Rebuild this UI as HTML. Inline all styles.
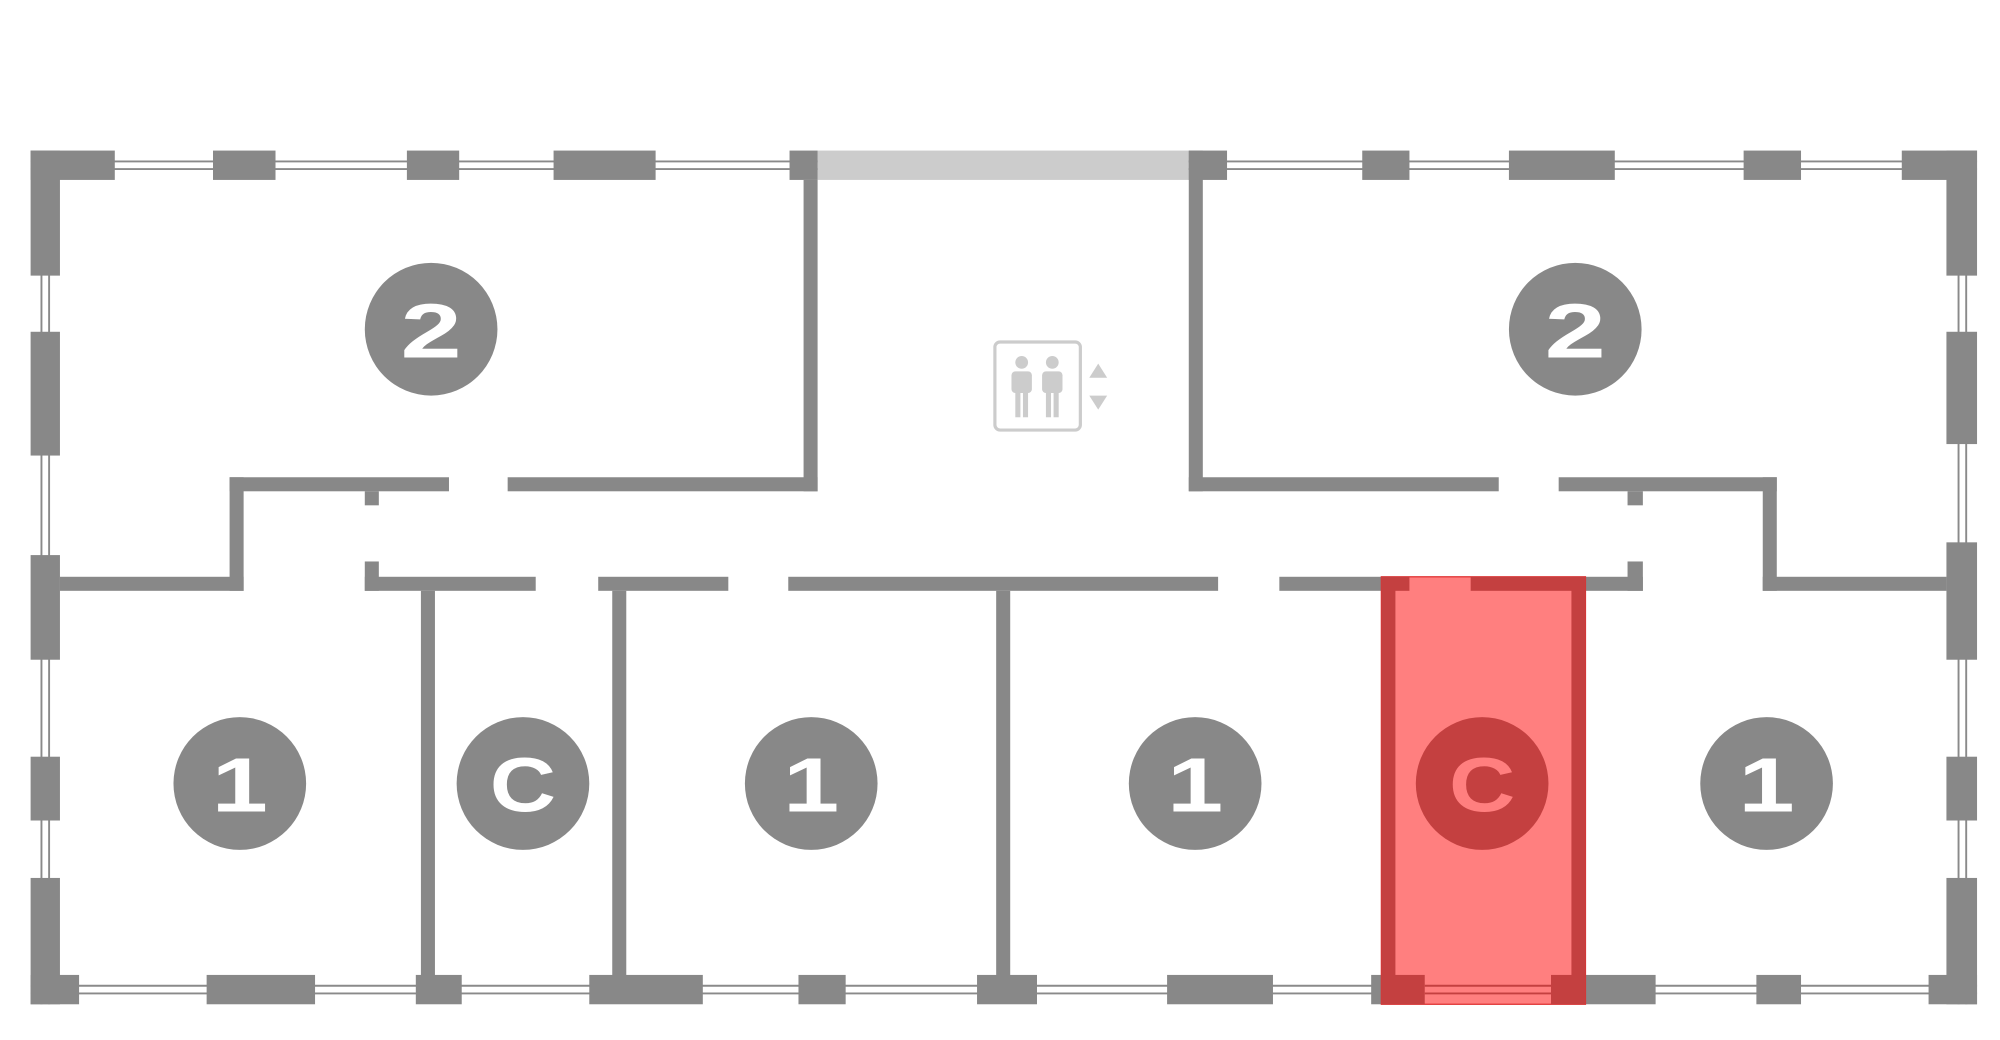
<!DOCTYPE html>
<html><head><meta charset="utf-8"><style>html,body{margin:0;padding:0;background:#fff;}svg{display:block}</style></head><body>
<svg width="2000" height="1040" viewBox="0 0 1568 815" preserveAspectRatio="none" xmlns="http://www.w3.org/2000/svg">
<rect width="1568" height="815" fill="#fff"/>
<g stroke="#8a8a8a" stroke-width="1.5" fill="none">
<line x1="24" y1="126.5" x2="1550" y2="126.5"/><line x1="24" y1="132.5" x2="1550" y2="132.5"/>
<line x1="24" y1="772.5" x2="1550" y2="772.5"/><line x1="24" y1="778.5" x2="1550" y2="778.5"/>
<line x1="32.5" y1="118" x2="32.5" y2="787"/><line x1="38.5" y1="118" x2="38.5" y2="787"/>
<line x1="1535.5" y1="118" x2="1535.5" y2="787"/><line x1="1541.5" y1="118" x2="1541.5" y2="787"/>
</g>
<rect x="641" y="118" width="291" height="23" fill="#ccc"/>
<g fill="#888">
<rect x="24" y="118" width="66" height="23"/><rect x="167" y="118" width="49" height="23"/><rect x="319" y="118" width="41" height="23"/><rect x="434" y="118" width="80" height="23"/><rect x="619" y="118" width="22" height="23"/>
<rect x="932" y="118" width="30" height="23"/><rect x="1068" y="118" width="37" height="23"/><rect x="1183" y="118" width="83" height="23"/><rect x="1367" y="118" width="45" height="23"/><rect x="1491" y="118" width="59" height="23"/>
<rect x="24" y="118" width="23" height="98"/><rect x="24" y="260" width="23" height="97"/><rect x="24" y="435" width="23" height="82"/><rect x="24" y="593" width="23" height="50"/><rect x="24" y="688" width="23" height="99"/>
<rect x="1526" y="118" width="24" height="98"/><rect x="1526" y="260" width="24" height="88"/><rect x="1526" y="425" width="24" height="92"/><rect x="1526" y="593" width="24" height="50"/><rect x="1526" y="688" width="24" height="99"/>
<rect x="24" y="764" width="38" height="23"/><rect x="162" y="764" width="85" height="23"/><rect x="326" y="764" width="36" height="23"/><rect x="462" y="764" width="89" height="23"/><rect x="626" y="764" width="37" height="23"/><rect x="766" y="764" width="47" height="23"/><rect x="915" y="764" width="83" height="23"/><rect x="1075" y="764" width="42" height="23"/><rect x="1216" y="764" width="82" height="23"/><rect x="1377" y="764" width="35" height="23"/><rect x="1512" y="764" width="38" height="23"/>
<rect x="630" y="141" width="11" height="244"/><rect x="398" y="374" width="243" height="11"/><rect x="180" y="374" width="172" height="11"/><rect x="180" y="374" width="11" height="89"/><rect x="47" y="452" width="144" height="11"/>
<rect x="286" y="385" width="11" height="11"/><rect x="286" y="440" width="11" height="23"/>
<rect x="286" y="452" width="134" height="11"/><rect x="469" y="452" width="102" height="11"/><rect x="618" y="452" width="337" height="11"/><rect x="1003" y="452" width="285" height="11"/>
<rect x="1276" y="440" width="12" height="23"/><rect x="1276" y="385" width="12" height="11"/>
<rect x="932" y="118" width="11" height="267"/><rect x="932" y="374" width="243" height="11"/><rect x="1222" y="374" width="171" height="11"/><rect x="1382" y="374" width="11" height="89"/><rect x="1382" y="452" width="144" height="11"/>
<rect x="330" y="463" width="11" height="305"/><rect x="480" y="463" width="11" height="305"/><rect x="781" y="463" width="11" height="305"/>
</g>
<rect x="1083" y="452" width="160" height="335" fill="#ff7f7f" stroke="#e03030" stroke-width="1"/>
<g fill="#c44040">
<rect x="1083" y="452" width="11" height="335"/><rect x="1232" y="452" width="11" height="335"/>
<rect x="1083" y="452" width="22" height="11"/><rect x="1153" y="452" width="90" height="11"/>
<rect x="1083" y="764" width="34" height="23"/><rect x="1216" y="764" width="27" height="23"/>
</g>
<g stroke="#c44040" stroke-width="1.5"><line x1="1117" y1="772.5" x2="1216" y2="772.5"/><line x1="1117" y1="778.5" x2="1216" y2="778.5"/></g>
<g font-family="Liberation Sans, sans-serif" font-weight="bold" font-size="60" text-anchor="middle" lengthAdjust="spacingAndGlyphs">
<circle cx="338" cy="258" r="52" fill="#888"/><text x="338" y="280" fill="#fff" textLength="48" lengthAdjust="spacingAndGlyphs">2</text>
<circle cx="1235" cy="258" r="52" fill="#888"/><text x="1235" y="280" fill="#fff" textLength="48" lengthAdjust="spacingAndGlyphs">2</text>
<circle cx="188" cy="614" r="52" fill="#888"/><text x="188" y="636" fill="#fff" textLength="44" lengthAdjust="spacingAndGlyphs">1</text>
<circle cx="410" cy="614" r="52" fill="#888"/><text x="410" y="636" fill="#fff" textLength="52" lengthAdjust="spacingAndGlyphs">C</text>
<circle cx="636" cy="614" r="52" fill="#888"/><text x="636" y="636" fill="#fff" textLength="44" lengthAdjust="spacingAndGlyphs">1</text>
<circle cx="937" cy="614" r="52" fill="#888"/><text x="937" y="636" fill="#fff" textLength="44" lengthAdjust="spacingAndGlyphs">1</text>
<circle cx="1162" cy="614" r="52" fill="#c44040"/><text x="1162" y="636" fill="#ff7f7f" textLength="52" lengthAdjust="spacingAndGlyphs">C</text>
<circle cx="1385" cy="614" r="52" fill="#888"/><text x="1385" y="636" fill="#fff" textLength="44" lengthAdjust="spacingAndGlyphs">1</text>
</g>
<rect x="780" y="268" width="67" height="69" rx="4" fill="none" stroke="#ccc" stroke-width="2.5"/>
<g fill="#ccc">
<circle cx="801" cy="284" r="5"/><rect x="793" y="291" width="16" height="17" rx="3"/><rect x="796" y="305" width="4" height="22"/><rect x="802" y="305" width="4" height="22"/>
<circle cx="825" cy="284" r="5"/><rect x="817" y="291" width="16" height="17" rx="3"/><rect x="820" y="305" width="4" height="22"/><rect x="826" y="305" width="4" height="22"/>
<polygon points="861,285 868,296 854,296"/><polygon points="854,310 868,310 861,321"/>
</g>
</svg>
</body></html>
